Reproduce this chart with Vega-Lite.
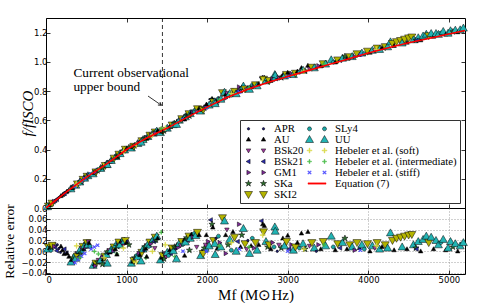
{
  "$schema": "https://vega.github.io/schema/vega-lite/v6.json",
  "padding": {"left": 2, "top": 17, "right": 5, "bottom": 0},
  "bounds": "flush",
  "spacing": 0,
  "config": {
    "view": {"stroke": "black", "strokeWidth": 1},
    "axis": {"labelFont": "DejaVu Sans", "labelFontSize": 8.5, "labelColor": "black", "tickColor": "black", "tickSize": -4, "tickWidth": 0.8, "labelPadding": 3, "labelFlush": false, "labelOverlap": false, "domain": false, "grid": false, "titleFont": "Liberation Serif", "titleFontSize": 13.5, "titleFontWeight": "normal", "titleColor": "black", "minExtent": 0}
  },
  "resolve": {"scale": {"shape": "independent", "fill": "independent", "stroke": "independent"}, "legend": {"shape": "independent", "fill": "independent", "stroke": "independent"}},
  "datasets": {
    "fit": [
      {"x": 0, "f": 0}, {"x": 250, "f": 0.109}, {"x": 500, "f": 0.21}, {"x": 750, "f": 0.30}, {"x": 1000, "f": 0.40}, {"x": 1250, "f": 0.479}, {"x": 1500, "f": 0.545}, {"x": 1750, "f": 0.62}, {"x": 2000, "f": 0.69}, {"x": 2250, "f": 0.758}, {"x": 2500, "f": 0.81}, {"x": 2750, "f": 0.859}, {"x": 3000, "f": 0.90}, {"x": 3250, "f": 0.94}, {"x": 3500, "f": 0.98}, {"x": 3750, "f": 1.02}, {"x": 4000, "f": 1.06}, {"x": 4250, "f": 1.097}, {"x": 4500, "f": 1.13}, {"x": 4750, "f": 1.16}, {"x": 5000, "f": 1.19}, {"x": 5200, "f": 1.214}
    ],
    "pts": [
      {"s":"SKI2","x":30,"y":0.013,"e":0.008},
      {"s":"UU","x":20,"y":0.009,"e":0.004},
      {"s":"AU","x":45,"y":0.020,"e":0.006},
      {"s":"SLy4","x":60,"y":0.026,"e":0.002},
      {"s":"SKa","x":70,"y":0.031,"e":0.007},
      {"s":"BSk21","x":95,"y":0.042,"e":0.012},
      {"s":"BSk21","x":115,"y":0.051,"e":0.007},
      {"s":"BSk21","x":135,"y":0.059,"e":0.001},
      {"s":"APR","x":140,"y":0.062,"e":0.012},
      {"s":"APR","x":160,"y":0.071,"e":0.005},
      {"s":"APR","x":180,"y":0.079,"e":-0.002},
      {"s":"AU","x":185,"y":0.082,"e":0.009},
      {"s":"AU","x":205,"y":0.090,"e":0.002},
      {"s":"AU","x":225,"y":0.098,"e":-0.005},
      {"s":"BSk21","x":230,"y":0.100,"e":0.004},
      {"s":"BSk21","x":255,"y":0.111,"e":-0.003},
      {"s":"AU","x":260,"y":0.113,"e":-0.004},
      {"s":"AU","x":285,"y":0.123,"e":-0.010},
      {"s":"SKI2","x":75,"y":0.033,"e":0.011},
      {"s":"GM1","x":100,"y":0.044,"e":0.009},
      {"s":"UU","x":310,"y":0.131,"e":-0.020},
      {"s":"AU","x":320,"y":0.136,"e":-0.016},
      {"s":"SKa","x":335,"y":0.142,"e":-0.012},
      {"s":"BSk20","x":345,"y":0.145,"e":-0.018},
      {"s":"SLy4","x":355,"y":0.151,"e":-0.008},
      {"s":"UU","x":370,"y":0.156,"e":-0.013},
      {"s":"GM1","x":380,"y":0.161,"e":-0.004},
      {"s":"SKI2","x":390,"y":0.165,"e":-0.009},
      {"s":"AU","x":400,"y":0.170,"e":-0.002},
      {"s":"BSk21","x":410,"y":0.172,"e":-0.010},
      {"s":"UU","x":420,"y":0.178,"e":0.002},
      {"s":"SKa","x":430,"y":0.181,"e":-0.003},
      {"s":"BSk20","x":440,"y":0.187,"e":0.006},
      {"s":"SLy4","x":450,"y":0.190,"e":0.000},
      {"s":"SKI2","x":460,"y":0.196,"e":0.009},
      {"s":"AU","x":470,"y":0.199,"e":0.004},
      {"s":"UU","x":480,"y":0.204,"e":0.011},
      {"s":"GM1","x":490,"y":0.207,"e":0.007},
      {"s":"SKa","x":500,"y":0.213,"e":0.014},
      {"s":"SKI2","x":510,"y":0.217,"e":0.016},
      {"s":"UU","x":520,"y":0.221,"e":0.012},
      {"s":"BSk20","x":525,"y":0.223,"e":0.018},
      {"s":"AU","x":535,"y":0.225,"e":0.015},
      {"s":"SLy4","x":545,"y":0.228,"e":0.009},
      {"s":"HX","x":360,"y":0.151,"e":-0.021},
      {"s":"HX","x":400,"y":0.167,"e":-0.015},
      {"s":"HX","x":440,"y":0.184,"e":-0.009},
      {"s":"HX","x":480,"y":0.201,"e":-0.004},
      {"s":"HX","x":560,"y":0.233,"e":0.004},
      {"s":"HX","x":600,"y":0.248,"e":0.008},
      {"s":"HX","x":640,"y":0.263,"e":0.011},
      {"s":"HI","x":420,"y":0.176,"e":-0.012},
      {"s":"HS","x":380,"y":0.164,"e":0.010},
      {"s":"HI","x":600,"y":0.246,"e":0.000},
      {"s":"UU","x":585,"y":0.234,"e":-0.026},
      {"s":"AU","x":600,"y":0.240,"e":-0.024},
      {"s":"SKI2","x":620,"y":0.247,"e":-0.022},
      {"s":"SKa","x":640,"y":0.255,"e":-0.020},
      {"s":"BSk20","x":650,"y":0.260,"e":-0.016},
      {"s":"SLy4","x":665,"y":0.264,"e":-0.019},
      {"s":"UU","x":680,"y":0.271,"e":-0.016},
      {"s":"GM1","x":700,"y":0.279,"e":-0.010},
      {"s":"AU","x":710,"y":0.282,"e":-0.015},
      {"s":"BSk21","x":720,"y":0.287,"e":-0.007},
      {"s":"SKI2","x":735,"y":0.291,"e":-0.009},
      {"s":"UU","x":750,"y":0.298,"e":-0.006},
      {"s":"SKa","x":760,"y":0.304,"e":-0.001},
      {"s":"APR","x":770,"y":0.307,"e":-0.004},
      {"s":"BSk20","x":785,"y":0.315,"e":0.002},
      {"s":"AU","x":795,"y":0.317,"e":-0.002},
      {"s":"UU","x":810,"y":0.325,"e":0.003},
      {"s":"SLy4","x":820,"y":0.330,"e":0.006},
      {"s":"GM1","x":835,"y":0.334,"e":0.001},
      {"s":"SKI2","x":845,"y":0.341,"e":0.008},
      {"s":"AU","x":860,"y":0.345,"e":0.004},
      {"s":"UU","x":870,"y":0.352,"e":0.012},
      {"s":"SKa","x":885,"y":0.357,"e":0.009},
      {"s":"BSk21","x":895,"y":0.363,"e":0.014},
      {"s":"SKI2","x":905,"y":0.368,"e":0.017},
      {"s":"UU","x":920,"y":0.372,"e":0.012},
      {"s":"AU","x":930,"y":0.379,"e":0.018},
      {"s":"BSk20","x":945,"y":0.384,"e":0.015},
      {"s":"SLy4","x":955,"y":0.390,"e":0.021},
      {"s":"GM1","x":965,"y":0.391,"e":0.013},
      {"s":"UU","x":975,"y":0.397,"e":0.019},
      {"s":"SKI2","x":985,"y":0.402,"e":0.020},
      {"s":"AU","x":1000,"y":0.406,"e":0.016},
      {"s":"APR","x":1010,"y":0.411,"e":0.019},
      {"s":"SKa","x":1030,"y":0.415,"e":0.012},
      {"s":"HI","x":650,"y":0.263,"e":-0.005},
      {"s":"HS","x":720,"y":0.286,"e":-0.012},
      {"s":"HI","x":880,"y":0.350,"e":-0.005},
      {"s":"HS","x":960,"y":0.386,"e":0.006},
      {"s":"UU","x":760,"y":0.297,"e":-0.022},
      {"s":"AU","x":880,"y":0.350,"e":-0.006},
      {"s":"SKa","x":700,"y":0.275,"e":-0.024},
      {"s":"GM1","x":610,"y":0.243,"e":-0.027},
      {"s":"UU","x":1060,"y":0.410,"e":-0.022},
      {"s":"AU","x":1075,"y":0.416,"e":-0.019},
      {"s":"SKI2","x":1090,"y":0.422,"e":-0.017},
      {"s":"SKa","x":1100,"y":0.427,"e":-0.012},
      {"s":"BSk20","x":1115,"y":0.430,"e":-0.015},
      {"s":"SLy4","x":1125,"y":0.436,"e":-0.008},
      {"s":"UU","x":1140,"y":0.441,"e":-0.010},
      {"s":"GM1","x":1150,"y":0.446,"e":-0.004},
      {"s":"AU","x":1165,"y":0.450,"e":-0.007},
      {"s":"BSk21","x":1175,"y":0.456,"e":0.000},
      {"s":"SKI2","x":1190,"y":0.460,"e":-0.002},
      {"s":"UU","x":1205,"y":0.468,"e":0.004},
      {"s":"APR","x":1215,"y":0.469,"e":0.001},
      {"s":"SKa","x":1225,"y":0.476,"e":0.008},
      {"s":"AU","x":1240,"y":0.478,"e":0.005},
      {"s":"BSk20","x":1250,"y":0.484,"e":0.011},
      {"s":"UU","x":1265,"y":0.489,"e":0.013},
      {"s":"SLy4","x":1275,"y":0.490,"e":0.009},
      {"s":"SKI2","x":1290,"y":0.498,"e":0.017},
      {"s":"GM1","x":1300,"y":0.500,"e":0.014},
      {"s":"AU","x":1315,"y":0.507,"e":0.020},
      {"s":"UU","x":1330,"y":0.512,"e":0.022},
      {"s":"BSk21","x":1340,"y":0.512,"e":0.018},
      {"s":"SKI2","x":1355,"y":0.520,"e":0.026},
      {"s":"SKa","x":1365,"y":0.521,"e":0.021},
      {"s":"UU","x":1375,"y":0.526,"e":0.028},
      {"s":"AU","x":1385,"y":0.527,"e":0.024},
      {"s":"HS","x":1120,"y":0.430,"e":-0.020},
      {"s":"HI","x":1240,"y":0.470,"e":-0.012},
      {"s":"HS","x":1320,"y":0.498,"e":0.000},
      {"s":"UU","x":1180,"y":0.450,"e":-0.018},
      {"s":"AU","x":1250,"y":0.474,"e":-0.010},
      {"s":"BSk20","x":1350,"y":0.509,"e":0.006},
      {"s":"UU","x":1420,"y":0.516,"e":-0.016},
      {"s":"AU","x":1435,"y":0.522,"e":-0.012},
      {"s":"SKI2","x":1450,"y":0.528,"e":-0.008},
      {"s":"SKa","x":1465,"y":0.528,"e":-0.014},
      {"s":"GM1","x":1480,"y":0.538,"e":-0.004},
      {"s":"BSk20","x":1490,"y":0.537,"e":-0.010},
      {"s":"UU","x":1505,"y":0.546,"e":-0.002},
      {"s":"SLy4","x":1520,"y":0.547,"e":-0.008},
      {"s":"AU","x":1535,"y":0.556,"e":0.002},
      {"s":"BSk21","x":1550,"y":0.558,"e":-0.004},
      {"s":"SKI2","x":1565,"y":0.568,"e":0.006},
      {"s":"UU","x":1580,"y":0.570,"e":0.001},
      {"s":"SKa","x":1595,"y":0.579,"e":0.008},
      {"s":"APR","x":1610,"y":0.580,"e":0.004},
      {"s":"AU","x":1625,"y":0.590,"e":0.012},
      {"s":"GM1","x":1640,"y":0.591,"e":0.007},
      {"s":"UU","x":1655,"y":0.601,"e":0.015},
      {"s":"BSk20","x":1670,"y":0.603,"e":0.011},
      {"s":"SKI2","x":1685,"y":0.611,"e":0.018},
      {"s":"SLy4","x":1700,"y":0.613,"e":0.013},
      {"s":"AU","x":1715,"y":0.623,"e":0.021},
      {"s":"UU","x":1730,"y":0.624,"e":0.017},
      {"s":"SKa","x":1745,"y":0.633,"e":0.025},
      {"s":"BSk21","x":1760,"y":0.635,"e":0.020},
      {"s":"SKI2","x":1775,"y":0.645,"e":0.028},
      {"s":"UU","x":1790,"y":0.646,"e":0.024},
      {"s":"AU","x":1805,"y":0.655,"e":0.031},
      {"s":"GM1","x":1820,"y":0.657,"e":0.026},
      {"s":"SLy4","x":1840,"y":0.666,"e":0.033},
      {"s":"UU","x":1860,"y":0.670,"e":0.029},
      {"s":"SKI2","x":1880,"y":0.679,"e":0.035},
      {"s":"AU","x":1900,"y":0.682,"e":0.030},
      {"s":"HS","x":1480,"y":0.546,"e":0.012},
      {"s":"HI","x":1600,"y":0.569,"e":-0.010},
      {"s":"HX","x":1700,"y":0.605,"e":0.000},
      {"s":"UU","x":1620,"y":0.572,"e":-0.014},
      {"s":"AU","x":1720,"y":0.606,"e":-0.008},
      {"s":"SKa","x":1780,"y":0.630,"e":0.002},
      {"s":"BSk20","x":1870,"y":0.658,"e":0.008},
      {"s":"HI","x":1430,"y":0.544,"e":0.035},
      {"s":"UU","x":1920,"y":0.663,"e":-0.008},
      {"s":"AU","x":1935,"y":0.672,"e":0.000},
      {"s":"SKI2","x":1950,"y":0.673,"e":-0.004},
      {"s":"SKa","x":1965,"y":0.684,"e":0.006},
      {"s":"BSk20","x":1980,"y":0.692,"e":0.012},
      {"s":"SLy4","x":1995,"y":0.690,"e":0.002},
      {"s":"GM1","x":2010,"y":0.705,"e":0.018},
      {"s":"UU","x":2025,"y":0.704,"e":0.010},
      {"s":"BSk21","x":2045,"y":0.744,"e":0.058},
      {"s":"SKa","x":2060,"y":0.742,"e":0.050},
      {"s":"AU","x":2070,"y":0.741,"e":0.044},
      {"s":"SKI2","x":2080,"y":0.726,"e":0.020},
      {"s":"UU","x":2095,"y":0.727,"e":0.014},
      {"s":"APR","x":2110,"y":0.738,"e":0.024},
      {"s":"AU","x":2125,"y":0.729,"e":0.005},
      {"s":"SLy4","x":2140,"y":0.749,"e":0.028},
      {"s":"GM1","x":2155,"y":0.745,"e":0.016},
      {"s":"UU","x":2170,"y":0.744,"e":0.008},
      {"s":"SKI2","x":2190,"y":0.789,"e":0.062},
      {"s":"UU","x":2215,"y":0.792,"e":0.056},
      {"s":"AU","x":2230,"y":0.777,"e":0.030},
      {"s":"BSk20","x":2245,"y":0.787,"e":0.040},
      {"s":"SKa","x":2260,"y":0.770,"e":0.012},
      {"s":"UU","x":2280,"y":0.783,"e":0.022},
      {"s":"SLy4","x":2300,"y":0.772,"e":0.002},
      {"s":"AU","x":2320,"y":0.802,"e":0.036},
      {"s":"SKI2","x":2340,"y":0.798,"e":0.026},
      {"s":"GM1","x":2395,"y":0.828,"e":0.050},
      {"s":"UU","x":2360,"y":0.782,"e":0.000},
      {"s":"BSk21","x":2380,"y":0.800,"e":0.018},
      {"s":"AU","x":2415,"y":0.799,"e":0.008},
      {"s":"SKa","x":2430,"y":0.820,"e":0.030},
      {"s":"UU","x":2450,"y":0.834,"e":0.042},
      {"s":"SKI2","x":2470,"y":0.815,"e":0.014},
      {"s":"BSk20","x":2490,"y":0.811,"e":0.004},
      {"s":"APR","x":2505,"y":0.827,"e":0.020},
      {"s":"UU","x":2525,"y":0.812,"e":-0.004},
      {"s":"AU","x":2545,"y":0.827,"e":0.010},
      {"s":"SLy4","x":2560,"y":0.842,"e":0.024},
      {"s":"GM1","x":2580,"y":0.831,"e":0.006},
      {"s":"SKI2","x":2600,"y":0.843,"e":0.016},
      {"s":"UU","x":2620,"y":0.836,"e":0.002},
      {"s":"AU","x":2640,"y":0.848,"e":0.012},
      {"s":"BSk21","x":2675,"y":0.892,"e":0.056},
      {"s":"AU","x":2690,"y":0.890,"e":0.050},
      {"s":"AU","x":2710,"y":0.892,"e":0.047},
      {"s":"SKI2","x":2700,"y":0.881,"e":0.036},
      {"s":"HS","x":2690,"y":0.873,"e":0.030},
      {"s":"UU","x":2730,"y":0.870,"e":0.018},
      {"s":"SKa","x":2750,"y":0.866,"e":0.008},
      {"s":"UU","x":2840,"y":0.913,"e":0.045},
      {"s":"UU","x":2845,"y":0.907,"e":0.037},
      {"s":"HX","x":1990,"y":0.687,"e":0.000},
      {"s":"HI","x":2150,"y":0.739,"e":0.010},
      {"s":"HS","x":2300,"y":0.782,"e":0.016},
      {"s":"HX","x":2400,"y":0.793,"e":0.004},
      {"s":"HI","x":2520,"y":0.821,"e":0.008},
      {"s":"AU","x":1990,"y":0.708,"e":0.030},
      {"s":"GM1","x":2230,"y":0.751,"e":-0.004},
      {"s":"UU","x":2100,"y":0.714,"e":-0.006},
      {"s":"SKI2","x":2770,"y":0.872,"e":0.012},
      {"s":"AU","x":2790,"y":0.870,"e":0.004},
      {"s":"GM1","x":2810,"y":0.884,"e":0.016},
      {"s":"SLy4","x":2830,"y":0.880,"e":0.008},
      {"s":"APR","x":2870,"y":0.879,"e":0.000},
      {"s":"BSk20","x":2890,"y":0.893,"e":0.012},
      {"s":"SKa","x":2920,"y":0.892,"e":0.006},
      {"s":"AU","x":2940,"y":0.911,"e":0.024},
      {"s":"UU","x":2960,"y":0.903,"e":0.010},
      {"s":"SKI2","x":2985,"y":0.914,"e":0.018},
      {"s":"AU","x":3000,"y":0.926,"e":0.029},
      {"s":"BSk21","x":3020,"y":0.907,"e":0.004},
      {"s":"GM1","x":3045,"y":0.918,"e":0.012},
      {"s":"UU","x":3070,"y":0.913,"e":0.002},
      {"s":"SKI2","x":3095,"y":0.922,"e":0.008},
      {"s":"AU","x":3120,"y":0.934,"e":0.016},
      {"s":"SLy4","x":3145,"y":0.929,"e":0.006},
      {"s":"AU","x":3170,"y":0.958,"e":0.033},
      {"s":"UU","x":3190,"y":0.943,"e":0.014},
      {"s":"SKa","x":3215,"y":0.938,"e":0.004},
      {"s":"AU","x":3250,"y":0.974,"e":0.036},
      {"s":"BSk20","x":3270,"y":0.952,"e":0.010},
      {"s":"SKI2","x":3300,"y":0.963,"e":0.016},
      {"s":"UU","x":3330,"y":0.959,"e":0.006},
      {"s":"APR","x":3355,"y":0.957,"e":0.000},
      {"s":"GM1","x":3380,"y":0.973,"e":0.012},
      {"s":"AU","x":3410,"y":0.970,"e":0.004},
      {"s":"SKI2","x":3440,"y":0.987,"e":0.018},
      {"s":"UU","x":3470,"y":0.985,"e":0.010},
      {"s":"UU","x":3540,"y":1.014,"e":0.028},
      {"s":"SLy4","x":3565,"y":0.998,"e":0.008},
      {"s":"AU","x":3590,"y":0.996,"e":0.002},
      {"s":"SKI2","x":3620,"y":1.013,"e":0.014},
      {"s":"BSk21","x":3650,"y":1.010,"e":0.006},
      {"s":"UU","x":3680,"y":1.025,"e":0.016},
      {"s":"SKa","x":3710,"y":1.038,"e":0.024},
      {"s":"AU","x":3735,"y":1.022,"e":0.004},
      {"s":"SKI2","x":3770,"y":1.035,"e":0.012},
      {"s":"UU","x":3800,"y":1.036,"e":0.008},
      {"s":"GM1","x":3830,"y":1.035,"e":0.002},
      {"s":"SKI2","x":3860,"y":1.055,"e":0.016},
      {"s":"AU","x":3890,"y":1.048,"e":0.006},
      {"s":"UU","x":3920,"y":1.060,"e":0.012},
      {"s":"SLy4","x":3950,"y":1.056,"e":0.004},
      {"s":"SKI2","x":3990,"y":1.073,"e":0.014},
      {"s":"AU","x":4020,"y":1.063,"e":0.000},
      {"s":"UU","x":4050,"y":1.079,"e":0.010},
      {"s":"BSk20","x":4080,"y":1.078,"e":0.006},
      {"s":"SKI2","x":4110,"y":1.094,"e":0.016},
      {"s":"UU","x":4140,"y":1.085,"e":0.004},
      {"s":"AU","x":4170,"y":1.095,"e":0.008},
      {"s":"SKI2","x":4210,"y":1.104,"e":0.012},
      {"s":"UU","x":4240,"y":1.103,"e":0.006},
      {"s":"UU","x":4275,"y":1.137,"e":0.034},
      {"s":"SKI2","x":4300,"y":1.126,"e":0.020},
      {"s":"AU","x":4320,"y":1.109,"e":0.002},
      {"s":"SKI2","x":4350,"y":1.138,"e":0.024},
      {"s":"SKI2","x":4400,"y":1.146,"e":0.026},
      {"s":"UU","x":4420,"y":1.129,"e":0.008},
      {"s":"SKI2","x":4450,"y":1.155,"e":0.028},
      {"s":"SKI2","x":4500,"y":1.164,"e":0.030},
      {"s":"SKI2","x":4540,"y":1.170,"e":0.031},
      {"s":"AU","x":4480,"y":1.132,"e":0.004},
      {"s":"UU","x":4560,"y":1.151,"e":0.012},
      {"s":"SKa","x":4590,"y":1.148,"e":0.006},
      {"s":"UU","x":4620,"y":1.165,"e":0.018},
      {"s":"AU","x":4650,"y":1.148,"e":0.000},
      {"s":"UU","x":4680,"y":1.177,"e":0.022},
      {"s":"UU","x":4720,"y":1.189,"e":0.028},
      {"s":"SKI2","x":4750,"y":1.179,"e":0.016},
      {"s":"UU","x":4780,"y":1.194,"e":0.026},
      {"s":"AU","x":4810,"y":1.172,"e":0.004},
      {"s":"UU","x":4840,"y":1.194,"e":0.020},
      {"s":"UU","x":4870,"y":1.188,"e":0.012},
      {"s":"SLy4","x":4900,"y":1.197,"e":0.016},
      {"s":"UU","x":4930,"y":1.208,"e":0.022},
      {"s":"AU","x":4960,"y":1.187,"e":0.002},
      {"s":"UU","x":4990,"y":1.196,"e":0.006},
      {"s":"UU","x":5020,"y":1.213,"e":0.018},
      {"s":"SKa","x":5050,"y":1.206,"e":0.008},
      {"s":"UU","x":5080,"y":1.217,"e":0.014},
      {"s":"AU","x":5110,"y":1.203,"e":0.000},
      {"s":"UU","x":5140,"y":1.219,"e":0.010},
      {"s":"UU","x":5180,"y":1.231,"e":0.016},
      {"s":"HX","x":3000,"y":0.900,"e":0.000},
      {"s":"HS","x":3200,"y":0.936,"e":0.004},
      {"s":"HI","x":3450,"y":0.984,"e":0.012},
      {"s":"HX","x":3900,"y":1.046,"e":0.002},
      {"s":"HS","x":4100,"y":1.086,"e":0.010},
      {"s":"BSk21","x":4600,"y":1.147,"e":0.004}
    ]
  },
  "vconcat": [
    {
      "width": 419,
      "height": 190,
      "resolve": {"axis": {"x": "independent", "y": "independent"}, "scale": {"shape": "independent", "fill": "independent", "stroke": "independent"}, "legend": {"shape": "independent", "fill": "independent", "stroke": "independent"}},
      "layer": [
        {
          "data": {"name": "pts"},
          "mark": {"type": "point", "filled": true, "size": 100, "strokeWidth": 0.5, "opacity": 1},
          "encoding": {
            "x": {"field": "x", "type": "quantitative", "scale": {"domain": [0, 5200], "nice": false, "zero": false}, "axis": {"values": [0, 1000, 2000, 3000, 4000, 5000], "labels": false, "title": null}},
            "y": {"field": "y", "type": "quantitative", "scale": {"domain": [0, 1.3], "nice": false}, "axis": {"values": [0, 0.2, 0.4, 0.6, 0.8, 1.0, 1.2], "format": ".1f", "title": "f/fISCO", "titleFontStyle": "italic", "titleFontSize": 15, "titlePadding": -2}},
            "shape": {
              "field": "s", "type": "nominal", "legend": null,
              "scale": {
                "domain": ["APR","AU","BSk20","BSk21","GM1","SKa","SKI2","SLy4","UU","HS","HI","HX","EQ"],
                "range": [
                  "M-0.25,0A0.25,0.25,0,1,1,0.25,0A0.25,0.25,0,1,1,-0.25,0Z",
                  "M0,-0.48L0.45,0.32L-0.45,0.32Z",
                  "M0,0.48L0.45,-0.32L-0.45,-0.32Z",
                  "M-0.48,0L0.32,-0.45L0.32,0.45Z",
                  "M0.48,0L-0.32,-0.45L-0.32,0.45Z",
                  "M0,-0.65L0.153,-0.21L0.618,-0.201L0.247,0.08L0.382,0.526L0,0.26L-0.382,0.526L-0.247,0.08L-0.618,-0.201L-0.153,-0.21Z",
                  "M0,0.8L0.8,-0.6L-0.8,-0.6Z",
                  "M-0.4,0A0.4,0.4,0,1,1,0.4,0A0.4,0.4,0,1,1,-0.4,0Z",
                  "M0,-0.8L0.8,0.6L-0.8,0.6Z",
                  "M-0.5,-0.07H-0.07V-0.5H0.07V-0.07H0.5V0.07H0.07V0.5H-0.07V0.07H-0.5Z",
                  "M-0.4,-0.07H-0.07V-0.4H0.07V-0.07H0.4V0.07H0.07V0.4H-0.07V0.07H-0.4Z",
                  "M-0.35,-0.25L-0.25,-0.35L0.35,0.25L0.25,0.35ZM-0.35,0.25L0.25,-0.35L0.35,-0.25L-0.25,0.35Z",
                  "M-1,-0.15H1V0.15H-1Z"
                ]
              }
            },
            "fill": {"field": "s", "type": "nominal", "legend": null, "scale": {"domain": ["APR","AU","BSk20","BSk21","GM1","SKa","SKI2","SLy4","UU","HS","HI","HX","EQ"], "range": ["#1c1c6e","#000000","#a03ca0","#2b2bb0","#7f2a9a","#2d6e2d","#b4b400","#1aa6a6","#22b4b4","#d8d840","#44bb44","#4a4aff","#ff0000"]}},
            "stroke": {"field": "s", "type": "nominal", "legend": null, "scale": {"domain": ["APR","AU","BSk20","BSk21","GM1","SKa","SKI2","SLy4","UU","HS","HI","HX","EQ"], "range": ["#000000","#000000","#000000","#000000","#000000","#000000","#000000","#000000","#000000","#d8d840","#44bb44","#4a4aff","#ff0000"]}}
          }
        },
        {
          "data": {"values": []},
          "mark": {"type": "point", "filled": true, "size": 100, "strokeWidth": 0.5, "opacity": 1},
          "encoding": {
            "x": {"field": "x", "type": "quantitative", "axis": null},
            "y": {"field": "y", "type": "quantitative", "axis": null},
            "shape": {
              "field": "s", "type": "nominal",
              "scale": {
                "domain": ["APR","AU","BSk20","BSk21","GM1","SKa","SKI2","SLy4","UU","HS","HI","HX","EQ"],
                "range": [
                  "M-0.25,0A0.25,0.25,0,1,1,0.25,0A0.25,0.25,0,1,1,-0.25,0ZM2.75,0A0.25,0.25,0,1,1,3.25,0A0.25,0.25,0,1,1,2.75,0Z",
                  "M0,-0.48L0.45,0.32L-0.45,0.32ZM3,-0.48L3.45,0.32L2.55,0.32Z",
                  "M0,0.48L0.45,-0.32L-0.45,-0.32ZM3,0.48L3.45,-0.32L2.55,-0.32Z",
                  "M-0.48,0L0.32,-0.45L0.32,0.45ZM2.52,0L3.32,-0.45L3.32,0.45Z",
                  "M0.48,0L-0.32,-0.45L-0.32,0.45ZM3.48,0L2.68,-0.45L2.68,0.45Z",
                  "M0,-0.65L0.153,-0.21L0.618,-0.201L0.247,0.08L0.382,0.526L0,0.26L-0.382,0.526L-0.247,0.08L-0.618,-0.201L-0.153,-0.21ZM3,-0.65L3.153,-0.21L3.618,-0.201L3.247,0.08L3.382,0.526L3,0.26L2.618,0.526L2.753,0.08L2.382,-0.201L2.847,-0.21Z",
                  "M0,0.8L0.8,-0.6L-0.8,-0.6ZM3,0.8L3.8,-0.6L2.2,-0.6Z",
                  "M-0.4,0A0.4,0.4,0,1,1,0.4,0A0.4,0.4,0,1,1,-0.4,0ZM2.6,0A0.4,0.4,0,1,1,3.4,0A0.4,0.4,0,1,1,2.6,0Z",
                  "M0,-0.8L0.8,0.6L-0.8,0.6ZM3,-0.8L3.8,0.6L2.2,0.6Z",
                  "M-0.5,-0.07H-0.07V-0.5H0.07V-0.07H0.5V0.07H0.07V0.5H-0.07V0.07H-0.5ZM2.5,-0.07H2.93V-0.5H3.07V-0.07H3.5V0.07H3.07V0.5H2.93V0.07H2.5Z",
                  "M-0.4,-0.07H-0.07V-0.4H0.07V-0.07H0.4V0.07H0.07V0.4H-0.07V0.07H-0.4ZM2.6,-0.07H2.93V-0.4H3.07V-0.07H3.4V0.07H3.07V0.4H2.93V0.07H2.6Z",
                  "M-0.35,-0.25L-0.25,-0.35L0.35,0.25L0.25,0.35ZM-0.35,0.25L0.25,-0.35L0.35,-0.25L-0.25,0.35ZM2.65,-0.25L2.75,-0.35L3.35,0.25L3.25,0.35ZM2.65,0.25L3.25,-0.35L3.35,-0.25L2.75,0.35Z",
                  "M-0.3,-0.13H3.3V0.13H-0.3Z"
                ]
              },
              "legend": {
                "orient": "bottom-right", "offset": 5, "columns": 2, "columnPadding": 0, "rowPadding": -1.5, "padding": 3,
                "strokeColor": "#333333", "fillColor": "white", "title": null,
                "labelFont": "Liberation Serif", "labelFontSize": 10.8, "labelColor": "black", "labelOffset": 20,
                "symbolSize": 100, "symbolStrokeWidth": 0.5, "symbolOpacity": 1,
                "labelExpr": "datum.label=='HS'?'Hebeler et al. (soft)':datum.label=='HI'?'Hebeler et al. (intermediate)':datum.label=='HX'?'Hebeler et al. (stiff)':datum.label=='EQ'?'Equation (7)':datum.label"
              }
            },
            "fill": {"field": "s", "type": "nominal", "scale": {"domain": ["APR","AU","BSk20","BSk21","GM1","SKa","SKI2","SLy4","UU","HS","HI","HX","EQ"], "range": ["#1c1c6e","#000000","#a03ca0","#2b2bb0","#7f2a9a","#2d6e2d","#b4b400","#1aa6a6","#22b4b4","#d8d840","#44bb44","#4a4aff","#ff0000"]}},
            "stroke": {"field": "s", "type": "nominal", "scale": {"domain": ["APR","AU","BSk20","BSk21","GM1","SKa","SKI2","SLy4","UU","HS","HI","HX","EQ"], "range": ["#000000","#000000","#000000","#000000","#000000","#000000","#000000","#000000","#000000","#d8d840","#44bb44","#4a4aff","#ff0000"]}}
          }
        },
        {
          "data": {"name": "fit"},
          "mark": {"type": "line", "color": "#ff0000", "strokeWidth": 1.6},
          "encoding": {
            "x": {"field": "x", "type": "quantitative", "axis": null},
            "y": {"field": "f", "type": "quantitative", "axis": null}
          }
        },
        {
          "data": {"values": [{}]},
          "mark": {"type": "rule", "strokeDash": [4, 3], "color": "black", "strokeWidth": 0.8},
          "encoding": {"x": {"datum": 1445, "type": "quantitative", "axis": null}}
        },
        {
          "data": {"values": [{}]},
          "mark": {"type": "text", "align": "left", "baseline": "middle", "font": "Liberation Serif", "fontSize": 13.3, "lineHeight": 14.6, "color": "black"},
          "encoding": {
            "x": {"datum": 340, "type": "quantitative", "axis": null},
            "y": {"datum": 0.925, "type": "quantitative", "axis": null},
            "text": {"value": ["Current observational", "upper bound"]}
          }
        },
        {
          "data": {"values": [{}]},
          "mark": {"type": "rule", "color": "black", "strokeWidth": 0.8},
          "encoding": {
            "x": {"datum": 1266, "type": "quantitative", "axis": null},
            "x2": {"datum": 1432},
            "y": {"datum": 0.766, "type": "quantitative", "axis": null},
            "y2": {"datum": 0.703}
          }
        },
        {
          "data": {"values": [{}]},
          "mark": {"type": "point", "shape": "M-1,-0.6L0,0L-1,0.6", "filled": false, "stroke": "black", "strokeWidth": 0.8, "size": 36, "angle": 35, "opacity": 1},
          "encoding": {
            "x": {"datum": 1432, "type": "quantitative", "axis": null},
            "y": {"datum": 0.703, "type": "quantitative", "axis": null}
          }
        },
        {
          "data": {"values": [{}]},
          "mark": {"type": "point", "opacity": 0},
          "encoding": {
            "x": {"datum": 0, "type": "quantitative", "axis": {"orient": "top", "values": [0, 1000, 2000, 3000, 4000, 5000], "labels": false, "title": null}},
            "y": {"datum": 0, "type": "quantitative", "axis": {"orient": "right", "values": [0, 0.2, 0.4, 0.6, 0.8, 1.0, 1.2], "labels": false, "title": null}}
          }
        }
      ]
    },
    {
      "width": 419,
      "height": 66,
      "layer": [
        {
          "data": {"name": "pts"},
          "mark": {"type": "point", "filled": true, "size": 100, "strokeWidth": 0.5, "opacity": 1},
          "encoding": {
            "x": {"field": "x", "type": "quantitative", "scale": {"domain": [0, 5200], "nice": false, "zero": false}, "axis": {"values": [0, 1000, 2000, 3000, 4000, 5000], "format": "d", "title": "Mf (M⊙Hz)", "titleFontSize": 15, "titlePadding": 4, "labelPadding": 5, "labelFlush": true, "grid": true, "gridDash": [1, 2], "gridColor": "#888888", "gridWidth": 0.8}},
            "y": {"field": "e", "type": "quantitative", "scale": {"domain": [-0.042, 0.08], "nice": false, "zero": false}, "axis": {"values": [-0.04, -0.02, 0, 0.02, 0.04, 0.06], "format": ".2f", "title": "Relative error", "titlePadding": 4, "grid": true, "gridDash": [1, 2], "gridColor": "#888888", "gridWidth": 0.8}},
            "shape": {"field": "s", "type": "nominal", "legend": null, "scale": {
                "domain": ["APR","AU","BSk20","BSk21","GM1","SKa","SKI2","SLy4","UU","HS","HI","HX","EQ"],
                "range": [
                  "M-0.25,0A0.25,0.25,0,1,1,0.25,0A0.25,0.25,0,1,1,-0.25,0Z",
                  "M0,-0.48L0.45,0.32L-0.45,0.32Z",
                  "M0,0.48L0.45,-0.32L-0.45,-0.32Z",
                  "M-0.48,0L0.32,-0.45L0.32,0.45Z",
                  "M0.48,0L-0.32,-0.45L-0.32,0.45Z",
                  "M0,-0.65L0.153,-0.21L0.618,-0.201L0.247,0.08L0.382,0.526L0,0.26L-0.382,0.526L-0.247,0.08L-0.618,-0.201L-0.153,-0.21Z",
                  "M0,0.8L0.8,-0.6L-0.8,-0.6Z",
                  "M-0.4,0A0.4,0.4,0,1,1,0.4,0A0.4,0.4,0,1,1,-0.4,0Z",
                  "M0,-0.8L0.8,0.6L-0.8,0.6Z",
                  "M-0.5,-0.07H-0.07V-0.5H0.07V-0.07H0.5V0.07H0.07V0.5H-0.07V0.07H-0.5Z",
                  "M-0.4,-0.07H-0.07V-0.4H0.07V-0.07H0.4V0.07H0.07V0.4H-0.07V0.07H-0.4Z",
                  "M-0.35,-0.25L-0.25,-0.35L0.35,0.25L0.25,0.35ZM-0.35,0.25L0.25,-0.35L0.35,-0.25L-0.25,0.35Z",
                  "M-1,-0.15H1V0.15H-1Z"
                ]}},
            "fill": {"field": "s", "type": "nominal", "legend": null, "scale": {"domain": ["APR","AU","BSk20","BSk21","GM1","SKa","SKI2","SLy4","UU","HS","HI","HX","EQ"], "range": ["#1c1c6e","#000000","#a03ca0","#2b2bb0","#7f2a9a","#2d6e2d","#b4b400","#1aa6a6","#22b4b4","#d8d840","#44bb44","#4a4aff","#ff0000"]}},
            "stroke": {"field": "s", "type": "nominal", "legend": null, "scale": {"domain": ["APR","AU","BSk20","BSk21","GM1","SKa","SKI2","SLy4","UU","HS","HI","HX","EQ"], "range": ["#000000","#000000","#000000","#000000","#000000","#000000","#000000","#000000","#000000","#d8d840","#44bb44","#4a4aff","#ff0000"]}}
          }
        },
        {
          "data": {"values": [{}]},
          "mark": {"type": "rule", "strokeDash": [4, 3], "color": "black", "strokeWidth": 0.8},
          "encoding": {"x": {"datum": 1445, "type": "quantitative"}}
        }
      ]
    }
  ]
}
